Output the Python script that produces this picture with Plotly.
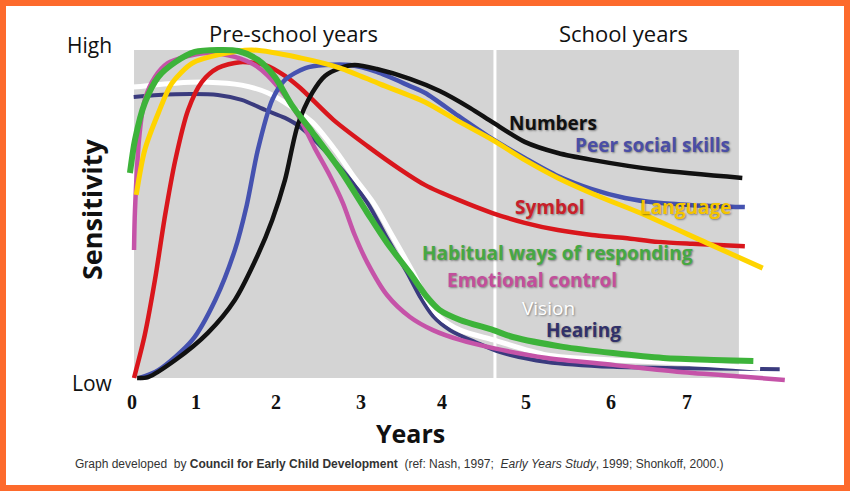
import plotly.graph_objects as go

# ---------------- data (x: age position, tick "years" are irregularly spaced; y: sensitivity 0=Low .. 100=High)
TICK_POS = [0.0, 0.753, 1.694, 2.694, 3.647, 4.635, 5.635, 6.529]
TICK_LABELS = ["0", "1", "2", "3", "4", "5", "6", "7"]

HEARING_X = [0.02, 0.31, 0.71, 1.01, 1.29, 1.57, 1.80, 1.98, 2.37, 2.77, 2.98, 3.24, 3.39, 3.54, 3.74, 4.06, 4.33, 4.88, 5.66, 6.45, 7.62]
HEARING_Y = [85.7, 86.3, 86.6, 86.3, 84.8, 81.7, 79.3, 76.5, 66.5, 53.4, 43.6, 32.0, 24.7, 18.9, 14.6, 10.7, 7.9, 4.9, 3.4, 3.0, 2.7]

VISION_X = [0.01, 0.51, 0.89, 1.29, 1.60, 1.88, 2.12, 2.39, 2.62, 2.84, 3.07, 3.31, 3.47, 3.62, 3.86, 4.25, 4.88, 5.66, 6.45, 7.39]
VISION_Y = [88.7, 89.9, 90.2, 89.3, 86.9, 82.6, 78.0, 69.5, 61.0, 53.4, 43.0, 32.0, 23.8, 18.6, 14.6, 11.6, 7.0, 5.5, 4.6, 3.0]

SYMBOL_X = [0.024, 0.15, 0.27, 0.39, 0.51, 0.66, 0.82, 1.01, 1.27, 1.57, 1.80, 1.98, 2.37, 2.77, 3.15, 3.45, 3.84, 4.24, 4.62, 5.01, 5.41, 5.80, 6.19, 6.59, 7.21]
SYMBOL_Y = [0.0, 13.1, 29.9, 49.7, 66.5, 81.7, 90.2, 94.5, 96.3, 95.4, 92.1, 88.4, 78.7, 70.7, 63.7, 58.8, 54.3, 50.3, 47.3, 45.1, 43.6, 42.7, 41.5, 40.9, 40.2]

EMOTIONAL_X = [0.024, 0.035, 0.09, 0.15, 0.27, 0.42, 0.62, 0.89, 1.21, 1.48, 1.72, 1.95, 2.15, 2.33, 2.48, 2.62, 2.77, 3.00, 3.27, 3.54, 3.86, 4.25, 4.88, 5.66, 6.45, 7.24, 7.68]
EMOTIONAL_Y = [39.0, 51.2, 74.7, 84.8, 91.8, 96.0, 97.9, 99.1, 97.9, 94.8, 88.7, 80.2, 70.1, 61.6, 53.4, 43.6, 35.1, 25.3, 18.6, 14.6, 11.6, 9.1, 6.1, 4.0, 1.8, 0.3, -0.6]

PEER_X = [0.09, 0.31, 0.71, 0.98, 1.21, 1.35, 1.48, 1.65, 1.80, 2.04, 2.27, 2.57, 2.88, 3.27, 3.45, 3.84, 4.24, 4.62, 5.01, 5.41, 5.80, 6.19, 6.59, 7.21]
PEER_Y = [0.0, 2.4, 11.6, 23.8, 39.0, 52.7, 69.5, 84.8, 90.9, 94.5, 95.4, 95.4, 93.3, 89.0, 86.9, 79.9, 72.9, 67.1, 61.6, 57.6, 54.9, 53.4, 52.7, 52.1]

NUMBERS_X = [0.06, 0.19, 0.51, 0.89, 1.21, 1.48, 1.65, 1.80, 1.95, 2.12, 2.27, 2.45, 2.62, 2.88, 3.27, 3.62, 3.98, 4.24, 4.62, 5.01, 5.41, 6.19, 7.18]
NUMBERS_Y = [0.0, 0.3, 5.5, 13.7, 23.8, 37.5, 48.2, 60.4, 77.1, 86.9, 92.1, 94.5, 95.4, 94.2, 91.2, 87.5, 82.3, 78.0, 72.0, 68.6, 66.5, 63.4, 61.0]

LANGUAGE_X = [0.05, 0.15, 0.31, 0.47, 0.71, 1.01, 1.41, 1.98, 2.45, 2.92, 3.45, 3.86, 4.24, 4.62, 5.01, 5.51, 5.98, 6.76, 7.42]
LANGUAGE_Y = [55.8, 69.5, 80.8, 89.9, 96.0, 98.5, 100.0, 97.6, 94.5, 89.6, 84.1, 78.0, 72.6, 66.5, 61.0, 55.2, 50.3, 41.2, 33.5]

HABITUAL_X = [-0.024, 0.035, 0.15, 0.31, 0.51, 0.74, 1.01, 1.25, 1.48, 1.68, 1.88, 2.12, 2.45, 2.77, 3.00, 3.27, 3.47, 3.62, 3.86, 4.25, 4.48, 5.07, 5.66, 6.25, 6.84, 7.31]
HABITUAL_Y = [62.5, 72.6, 83.8, 91.8, 96.3, 99.4, 100.0, 99.7, 97.0, 91.8, 83.2, 75.0, 63.4, 50.3, 41.2, 32.0, 24.7, 20.7, 17.7, 14.6, 12.5, 9.5, 7.6, 6.1, 5.5, 5.2]

# ---------------- layout geometry (pixels)
W, H = 850, 491
L, R, T, B = 100, 820, 20, 388
X0PX, XSCALE = 132, 85.0          # px of x=0, px per x unit
Y0PX, YSCALE = 378, 3.28          # px of y=0, px per y unit


def px_x(px):
    return (px - L) / (R - L)


def px_y(py):
    return (B - py) / (B - T)


xr = [(L - X0PX) / XSCALE, (R - X0PX) / XSCALE]
yr = [(Y0PX - B) / YSCALE, (Y0PX - T) / YSCALE]

series = [
    ("Hearing", HEARING_X, HEARING_Y, "#3a3b7e", 4),
    ("Vision", VISION_X, VISION_Y, "#ffffff", 5),
    ("Symbol", SYMBOL_X, SYMBOL_Y, "#d9161c", 4.5),
    ("Emotional control", EMOTIONAL_X, EMOTIONAL_Y, "#c553a8", 4.5),
    ("Peer social skills", PEER_X, PEER_Y, "#4552b0", 4.5),
    ("Numbers", NUMBERS_X, NUMBERS_Y, "#111111", 4.5),
    ("Language", LANGUAGE_X, LANGUAGE_Y, "#ffd400", 5),
    ("Habitual ways of responding", HABITUAL_X, HABITUAL_Y, "#3db33a", 6),
]

fig = go.Figure()
for name, xs, ys, color, w in series:
    fig.add_trace(go.Scatter(
        x=xs, y=ys, mode="lines", name=name,
        line=dict(color=color, width=w, shape="spline", smoothing=0.8),
        hoverinfo="skip", showlegend=False,
    ))

GRAY_X0, GRAY_X1, DIVIDER_X = 0.024, 7.14, 4.27

shapes = [
    dict(type="rect", xref="x", yref="y", x0=GRAY_X0, x1=GRAY_X1, y0=0, y1=100,
         fillcolor="#d4d4d4", line=dict(width=0), layer="below"),
    dict(type="line", xref="x", yref="y", x0=DIVIDER_X, x1=DIVIDER_X, y0=0, y1=100,
         line=dict(color="#ffffff", width=3), layer="below"),
    dict(type="rect", xref="paper", yref="paper",
         x0=px_x(0), x1=px_x(W), y0=px_y(H), y1=px_y(0),
         line=dict(color="#fd6a2c", width=12), fillcolor="rgba(0,0,0,0)", layer="above"),
]

LABEL_FONT = "Open Sans, Noto Sans, sans-serif"
SHADOW = "1px 1px 2px rgba(0,0,0,0.4)"

labels = [
    ("Numbers", 553, 123, "#111111", "bold"),
    ("Peer social skills", 652, 145, "#4a4ea6", "bold"),
    ("Symbol", 550, 207, "#c8202a", "bold"),
    ("Language", 685, 207, "#f4c400", "bold"),
    ("Habitual ways of responding", 557, 253, "#46a843", "bold"),
    ("Emotional control", 532, 280, "#c24e9c", "bold"),
    ("Vision", 548, 308, "#ffffff", "normal"),
    ("Hearing", 583, 330, "#31316a", "bold"),
]

ann = []
for text, cx, cy, col, wt in labels:
    ann.append(dict(text=text, x=px_x(cx), y=px_y(cy), xref="paper", yref="paper",
                    showarrow=False, xanchor="center", yanchor="middle",
                    font=dict(family=LABEL_FONT, size=19, color=col, weight=wt, shadow=SHADOW)))

ann += [
    dict(text="Pre-school years", x=px_x(293), y=px_y(33), xref="paper", yref="paper", showarrow=False,
         xanchor="center", yanchor="middle", font=dict(family=LABEL_FONT, size=22, color="#111111")),
    dict(text="School years", x=px_x(623), y=px_y(33), xref="paper", yref="paper", showarrow=False,
         xanchor="center", yanchor="middle", font=dict(family=LABEL_FONT, size=22, color="#111111")),
    dict(text="High", x=px_x(114), y=px_y(45), xref="paper", yref="paper", showarrow=False,
         xanchor="right", yanchor="middle", font=dict(family=LABEL_FONT, size=21, color="#111111")),
    dict(text="Low", x=px_x(115), y=px_y(383), xref="paper", yref="paper", showarrow=False,
         xanchor="right", yanchor="middle", font=dict(family=LABEL_FONT, size=21, color="#111111")),
    dict(text="Sensitivity", x=px_x(91), y=px_y(209), xref="paper", yref="paper", showarrow=False,
         textangle=-90, xanchor="center", yanchor="middle",
         font=dict(family=LABEL_FONT, size=27, color="#111111", weight="bold")),
    dict(text="Years", x=px_x(410), y=px_y(433), xref="paper", yref="paper", showarrow=False,
         xanchor="center", yanchor="middle",
         font=dict(family=LABEL_FONT, size=25, color="#111111", weight="bold")),
    dict(text="Graph developed  by <b>Council for Early Child Development</b>  (ref: Nash, 1997;  <i>Early Years Study</i>, 1999; Shonkoff, 2000.)",
         x=px_x(73), y=px_y(464), xref="paper", yref="paper", showarrow=False,
         xanchor="left", yanchor="middle",
         font=dict(family="Liberation Sans, Arial, sans-serif", size=12, color="#333333")),
]

fig.update_layout(
    width=W, height=H,
    margin=dict(l=L, r=W - R, t=T, b=H - B, pad=0),
    paper_bgcolor="#ffffff", plot_bgcolor="rgba(0,0,0,0)",
    shapes=shapes, annotations=ann,
    xaxis=dict(range=xr, tickvals=TICK_POS, ticktext=TICK_LABELS, showgrid=False, zeroline=False,
               showline=False, ticks="", fixedrange=True,
               tickfont=dict(family="Liberation Serif, serif", size=20, color="#111111", weight="bold")),
    yaxis=dict(range=yr, showgrid=False, zeroline=False, showline=False, showticklabels=False,
               ticks="", fixedrange=True),
)

fig.write_html(
    "out.html",
    config={"displayModeBar": False, "staticPlot": True},
    post_script="document.body.style.margin='0';document.body.style.overflow='hidden';",
)
